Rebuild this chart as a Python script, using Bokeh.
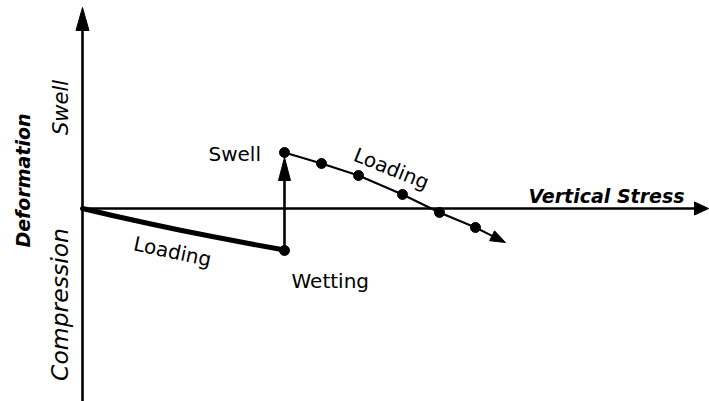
import math
from bokeh.plotting import figure
from bokeh.models import Range1d
from bokeh.core.properties import value
from bokeh.embed import file_html
from bokeh.resources import INLINE

# ---- schematic data (stress to the right, deformation upward; origin at axis crossing)
loading_stress = [0, 31, 65, 98, 131, 165, 202]
loading_deformation = [0, -7.3, -14.8, -21.7, -28.3, -34.8, -41.5]
wetting_point = [202, -42]
swell_point = [202, 56]
reload_stress = [202, 239, 276, 320, 357, 393]
reload_deformation = [56, 45, 33, 14, -4, -19]
reload_arrow_end = [423, -34]
axis_stress_max = 626
axis_deform_max = 201
axis_deform_min = -193

FONT = value("DejaVu Sans")

p = figure(width=709, height=401, output_backend="svg", toolbar_location=None,
           x_range=Range1d(-82, 627), y_range=Range1d(-193, 208),
           min_border=0, min_border_left=0, min_border_right=0,
           min_border_top=0, min_border_bottom=0)
p.axis.visible = False
p.grid.visible = False
p.outline_line_color = None
p.background_fill_color = "white"
p.border_fill_color = "white"


def head(tip, frm, length, width):
    dx, dy = tip[0] - frm[0], tip[1] - frm[1]
    n = math.hypot(dx, dy)
    ux, uy = dx / n, dy / n
    bx, by = tip[0] - ux * length, tip[1] - uy * length
    px, py = -uy * width / 2, ux * width / 2
    return [tip[0], bx + px, bx - px], [tip[1], by + py, by - py], (bx, by)


heads_x, heads_y = [], []

# vertical axis
hx, hy, base = head((0, axis_deform_max), (0, axis_deform_min), 23, 13)
heads_x.append(hx); heads_y.append(hy)
p.line([0, 0], [axis_deform_min, base[1] + 1], line_color="black", line_width=2.6)

# horizontal axis
hx, hy, base = head((axis_stress_max, 0), (0, 0), 14, 13)
heads_x.append(hx); heads_y.append(hy)
p.line([0, base[0] + 1], [0, 0], line_color="black", line_width=2.6)

# loading curve (thick)
p.line(loading_stress, loading_deformation, line_color="black", line_width=5,
       line_cap="round", line_join="round")

# wetting -> swell arrow
hx, hy, base = head((swell_point[0], swell_point[1] - 5), tuple(wetting_point), 23, 12)
heads_x.append(hx); heads_y.append(hy)
p.line([wetting_point[0], wetting_point[0]], [wetting_point[1], base[1] + 1],
       line_color="black", line_width=2.6)

# reloading line
hx, hy, base = head(tuple(reload_arrow_end), (reload_stress[-1], reload_deformation[-1]), 15, 11)
heads_x.append(hx); heads_y.append(hy)
p.line(reload_stress + [base[0]], reload_deformation + [base[1]],
       line_color="black", line_width=2)

p.patches(heads_x, heads_y, fill_color="black", line_color="black", line_width=1)

# points
p.scatter([wetting_point[0]] + reload_stress, [wetting_point[1]] + reload_deformation,
          size=10, fill_color="black", line_color="black")

# ---- texts
p.text(x=[446], y=[13], text=["Vertical Stress"], text_font=FONT,
       text_font_size="19px", text_font_style="bold italic",
       text_align="left", text_baseline="alphabetic", text_color="black")
p.text(x=[-60], y=[28], text=["Deformation"], angle=math.pi / 2, text_font=FONT,
       text_font_size="19px", text_font_style="bold italic",
       text_align="center", text_baseline="middle", text_color="black")
p.text(x=[-22], y=[101], text=["Swell"], angle=math.pi / 2, text_font=FONT,
       text_font_size="21px", text_font_style="italic",
       text_align="center", text_baseline="middle", text_color="black")
p.text(x=[-23], y=[-96], text=["Compression"], angle=math.pi / 2, text_font=FONT,
       text_font_size="23.5px", text_font_style="italic",
       text_align="center", text_baseline="middle", text_color="black")
p.text(x=[126], y=[55], text=["Swell"], text_font=FONT, text_font_size="20px",
       text_align="left", text_baseline="alphabetic", text_color="black")
p.text(x=[209], y=[-72], text=["Wetting"], text_font=FONT, text_font_size="20px",
       text_align="left", text_baseline="alphabetic", text_color="black")
p.text(x=[309], y=[40], text=["Loading"], angle=-0.38, text_font=FONT,
       text_font_size="20px", text_align="center", text_baseline="middle",
       text_color="black")
p.text(x=[90], y=[-43], text=["Loading"], angle=-0.21, text_font=FONT,
       text_font_size="20px", text_align="center", text_baseline="middle",
       text_color="black")

open("out.html", "w").write(file_html(p, INLINE))
